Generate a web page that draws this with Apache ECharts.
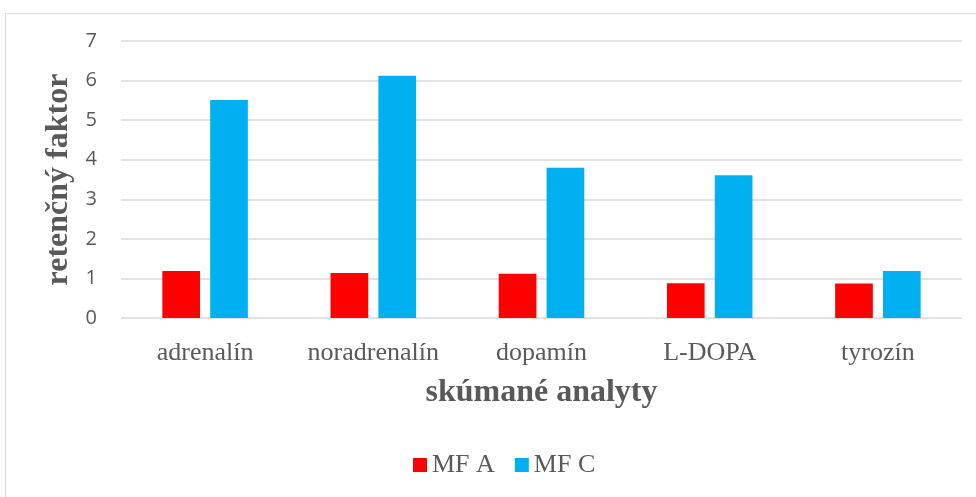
<!DOCTYPE html>
<html>
<head>
<meta charset="utf-8">
<script src="https://cdn.jsdelivr.net/npm/echarts@6/dist/echarts.min.js"></script>
<style>html,body{margin:0;padding:0;background:#fff;}#c{width:976px;height:497px;}</style>
</head>
<body>
<div id="c"></div>
<script>
var categories = ['adrenalín', 'noradrenalín', 'dopamín', 'L-DOPA', 'tyrozín'];
var mfA = [1.19, 1.14, 1.12, 0.88, 0.87];
var mfC = [5.51, 6.12, 3.80, 3.61, 1.19];
var yTicks = [0, 1, 2, 3, 4, 5, 6, 7];

var chart = echarts.init(document.getElementById('c'));
var serif = '"Liberation Serif", "DejaVu Serif", serif';
chart.setOption({
  animation: false,
  backgroundColor: '#fff',
  graphic: [{
    type: 'rect', left: 3, top: 11, silent: true,
    shape: { width: 980, height: 500 },
    style: { fill: 'none', stroke: '#d9d9d9', lineWidth: 1 }
  }],
  grid: { left: 121, right: 14, top: 41, bottom: 179 },
  legend: {
    data: ['MF A', 'MF C'],
    bottom: 14, left: 408,
    itemWidth: 14, itemHeight: 14, itemGap: 20,
    icon: 'rect',
    textStyle: { fontFamily: serif, fontSize: 26, color: '#595959' }
  },
  xAxis: {
    type: 'category', data: categories,
    axisLine: { show: false }, axisTick: { show: false },
    axisLabel: { interval: 0, hideOverlap: false, fontFamily: serif, fontSize: 26, color: '#595959', margin: 22 },
    name: 'skúmané analyty', nameLocation: 'middle', nameGap: 59,
    nameTextStyle: { fontFamily: serif, fontSize: 32, fontWeight: 'bold', color: '#595959' }
  },
  yAxis: {
    type: 'value', min: yTicks[0], max: yTicks[yTicks.length - 1], interval: 1,
    axisLine: { show: false }, axisTick: { show: false },
    axisLabel: { fontFamily: '"Open Sans", "Liberation Sans", sans-serif', fontSize: 20, color: '#595959', margin: 24 },
    splitLine: { lineStyle: { color: '#d9d9d9', width: 1.5 } },
    name: 'retenčný faktor', nameLocation: 'middle', nameGap: 44,
    nameTextStyle: { fontFamily: serif, fontSize: 32, fontWeight: 'bold', color: '#595959' }
  },
  series: [
    { name: 'MF A', type: 'bar', data: mfA, barWidth: '22.4%', barGap: '27%', itemStyle: { color: '#ff0000' } },
    { name: 'MF C', type: 'bar', data: mfC, barWidth: '22.4%', itemStyle: { color: '#00b0f0' } }
  ]
});
</script>
</body>
</html>
